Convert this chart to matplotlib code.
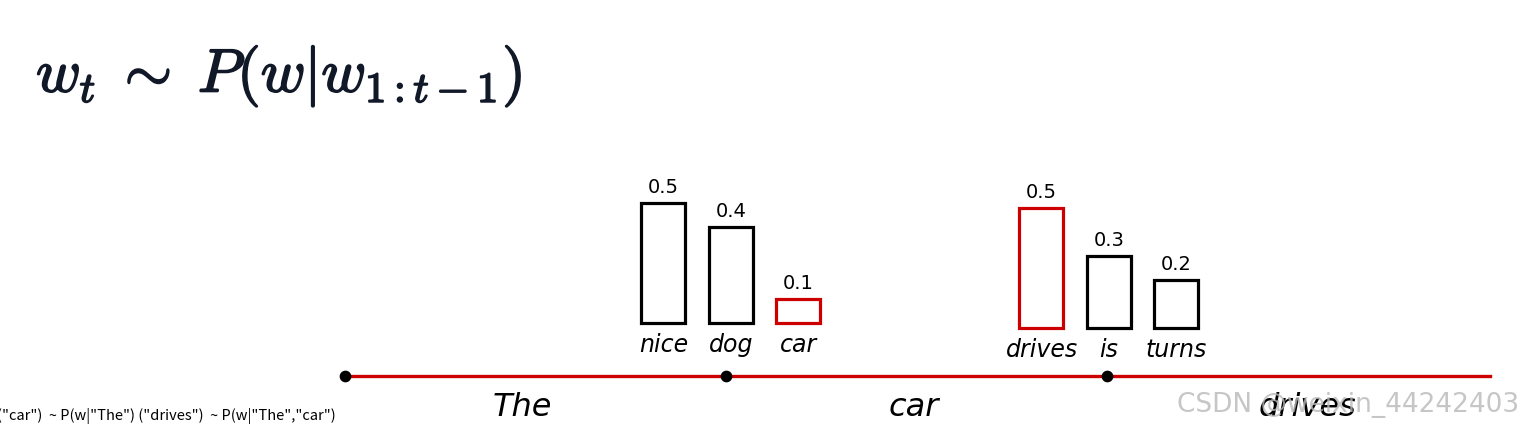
import matplotlib
matplotlib.use("Agg")
import matplotlib.pyplot as plt
import matplotlib.patheffects as pe

# data
sequence = ["The", "car", "drives"]
group1_words = ["nice", "dog", "car"]
group1_probs = [0.5, 0.4, 0.1]
group1_pick = "car"
group2_words = ["drives", "is", "turns"]
group2_probs = [0.5, 0.3, 0.2]
group2_pick = "drives"
caption = '("car")  ~ P(w|"The") ("drives")  ~ P(w|"The","car")'

RED = "#cc0000"
W, H = 1523, 436

fig = plt.figure(figsize=(W / 100, H / 100), dpi=100)
ax = fig.add_axes([0, 0, 1, 1])
ax.set_xlim(0, W)
ax.set_ylim(H, 0)
ax.axis("off")

# layout (pixels)
x0, step, line_y = 345, 381, 376
scale = 240          # px per unit of probability
bar_w, bar_gap = 44, 67.5
word_shift = [-13, -3, 10]

dots = [x0 + i * step for i in range(len(sequence))]
ax.plot([x0, x0 + len(sequence) * step + 2], [line_y, line_y], color=RED, lw=2.4, zorder=1)
ax.scatter(dots, [line_y] * len(dots), s=55, color="black", zorder=3)
for i, w in enumerate(sequence):
    ax.text(x0 + (i + 0.5) * step + word_shift[i], line_y + 31, w, fontsize=23,
            style="italic", ha="center", va="center", color="black")


def draw_group(cx, base, words, probs, pick):
    xs = [cx + (i - 1) * bar_gap for i in range(len(words))]
    for x, w, p in zip(xs, words, probs):
        ec = RED if w == pick else "black"
        ax.bar(x, -p * scale, bottom=base, width=bar_w, facecolor="white",
               edgecolor=ec, linewidth=2.3, zorder=2)
        ax.text(x, base - p * scale - 6, f"{p}", fontsize=14, ha="center", va="bottom")
        ax.text(x, base + 22, w, fontsize=17, style="italic", ha="center", va="center")


draw_group(dots[1] + 5, 323, group1_words, group1_probs, group1_pick)
draw_group(dots[2] + 2, 328, group2_words, group2_probs, group2_pick)

# formula
plt.rcParams["mathtext.fontset"] = "cm"
t = ax.text(36, 76, r"$w_t \;\sim\; P(w|w_{1:t-1})$", fontsize=44, ha="left", va="center",
            color="#111827")
t.set_path_effects([pe.withStroke(linewidth=1.2, foreground="#111827")])

ax.text(-3, 416, caption, fontsize=10.5, ha="left", va="center", color="black",
        family=["Noto Sans CJK SC", "DejaVu Sans"])
ax.text(1519, 405, "CSDN @weixin_44242403", fontsize=19, ha="right", va="center",
        color="#b8b8b8", alpha=0.8, zorder=5)

fig.savefig("out.png", dpi=100)
